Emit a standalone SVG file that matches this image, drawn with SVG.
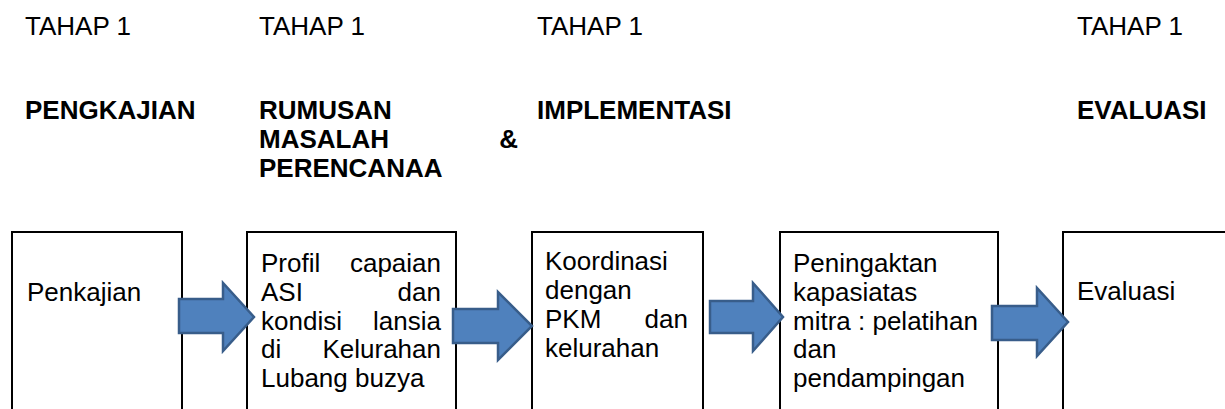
<svg xmlns="http://www.w3.org/2000/svg" width="1225" height="409" viewBox="0 0 1225 409">
<style>
text{font-family:"Liberation Sans",Arial,sans-serif;font-size:26px;fill:#000}
.b{font-weight:bold}
.box{fill:#fff;stroke:#000;stroke-width:2}
.arr{fill:#4f81bd;stroke:#385d8a;stroke-width:2.5;stroke-linejoin:miter}
</style>
<rect width="1225" height="409" fill="#fff"/>
<g id="headers">
<text x="25" y="35">TAHAP 1</text>
<text x="259" y="35">TAHAP 1</text>
<text x="537" y="35">TAHAP 1</text>
<text x="1077" y="35">TAHAP 1</text>
<text class="b" x="25" y="119">PENGKAJIAN</text>
<text class="b" x="259" y="119">RUMUSAN</text>
<text class="b" x="259" y="148">MASALAH</text>
<text class="b" x="518" y="148" text-anchor="end">&amp;</text>
<text class="b" x="259" y="177">PERENCANAA</text>
<text class="b" x="537" y="119">IMPLEMENTASI</text>
<text class="b" x="1077" y="119">EVALUASI</text>
</g>
<g id="node1">
<path class="box" d="M12,410 V232 H182 V410"/>
<text x="27" y="301">Penkajian</text>
</g>
<g id="node2">
<path class="box" d="M247,410 V232 H456 V410"/>
<text x="261" y="272">Profil</text><text x="441" y="272" text-anchor="end">capaian</text>
<text x="261" y="301">ASI</text><text x="441" y="301" text-anchor="end">dan</text>
<text x="261" y="330">kondisi</text><text x="441" y="330" text-anchor="end">lansia</text>
<text x="261" y="358">di</text><text x="441" y="358" text-anchor="end">Kelurahan</text>
<text x="261" y="387">Lubang buzya</text>
</g>
<g id="node3">
<path class="box" d="M532,410 V232 H703 V410"/>
<text x="545" y="270">Koordinasi</text>
<text x="545" y="299">dengan</text>
<text x="545" y="328">PKM</text><text x="688" y="328" text-anchor="end">dan</text>
<text x="545" y="357">kelurahan</text>
</g>
<g id="node4">
<path class="box" d="M780,410 V232 H998 V410"/>
<text x="793" y="272">Peningaktan</text>
<text x="793" y="301">kapasiatas</text>
<text x="793" y="330">mitra : pelatihan</text>
<text x="793" y="358">dan</text>
<text x="793" y="387">pendampingan</text>
</g>
<g id="node5">
<path class="box" d="M1063,410 V232 H1226"/>
<text x="1077" y="300">Evaluasi</text>
</g>
<g id="connectors">
<path class="arr" d="M179,299 L223,299 L223,283 L254,317 L223,351 L223,333 L179,333 Z"/>
<path class="arr" d="M453,309 L498,309 L498,292 L532,326 L498,360 L498,343 L453,343 Z"/>
<path class="arr" d="M710,301 L753,301 L753,283 L783,317 L753,351 L753,333 L710,333 Z"/>
<path class="arr" d="M992,306 L1037,306 L1037,288 L1068,322 L1037,356 L1037,340 L992,340 Z"/>
</g>
</svg>
